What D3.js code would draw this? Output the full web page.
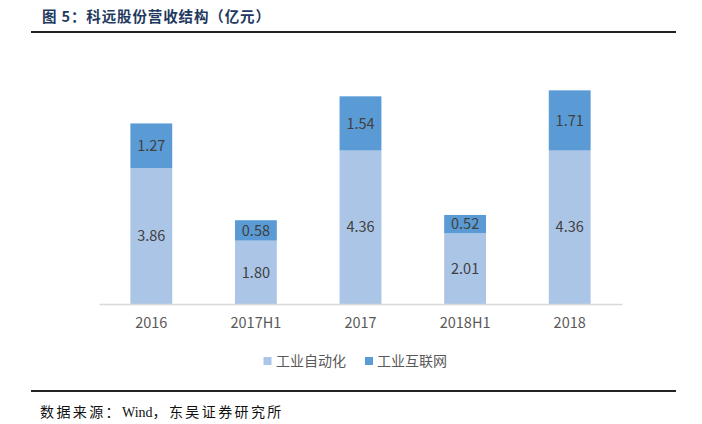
<!DOCTYPE html>
<html><head><meta charset="utf-8">
<script src="https://cdn.jsdelivr.net/npm/d3@7"></script>
<style>body{margin:0;background:#fff}svg{display:block}</style>
</head><body>
<svg id="c" width="702" height="424"></svg>
<script>
const categories = ["2016","2017H1","2017","2018H1","2018"];
const seriesNames = ["工业自动化","工业互联网"];
const automation = [3.86,1.80,4.36,2.01,4.36];
const internet = [1.27,0.58,1.54,0.52,1.71];
const colors = ["#ABC5E6","#5B9BD5"];
const titleText = "图 5：科远股份营收结构（亿元）";
const sourceParts = ["数据来源：","Wind","，东吴证券研究所"];

const svg = d3.select("#c");
const font = "'Noto Sans CJK SC','Liberation Sans',sans-serif";

// title
svg.append("text").attr("x",42).attr("y",22).text(titleText)
  .attr("font-family","'Noto Sans CJK SC',serif").attr("font-weight","bold")
  .attr("font-size",14.5).attr("fill","#1F3A60")
  .attr("textLength",228).attr("lengthAdjust","spacing");
svg.append("line").attr("x1",31).attr("x2",676).attr("y1",32).attr("y2",32)
  .attr("stroke","#222").attr("stroke-width",2);
svg.append("line").attr("x1",31).attr("x2",676).attr("y1",391).attr("y2",391)
  .attr("stroke","#222").attr("stroke-width",2);
const src = svg.append("text").attr("x",40).attr("y",417)
  .attr("font-family","'Liberation Serif','Noto Sans CJK SC',serif")
  .attr("font-size",14).attr("fill","#111");
src.append("tspan").attr("letter-spacing",2.4).text(sourceParts[0]);
src.append("tspan").text(sourceParts[1]);
src.append("tspan").attr("letter-spacing",2.4).text(sourceParts[2]);

const x = d3.scaleBand().domain(categories).range([99,622]).paddingInner(0.6).paddingOuter(0.3);
const y = d3.scaleLinear().domain([0,7]).range([304,304-7*35.2]);

const data = categories.map((c,i)=>({cat:c, a:automation[i], b:internet[i]}));
const stack = d3.stack().keys(["a","b"])(data);

const g = svg.append("g");
stack.forEach((layer,li)=>{
  g.selectAll(null).data(layer).enter().append("rect")
    .attr("x",d=>x(d.data.cat)).attr("width",x.bandwidth())
    .attr("y",d=>y(d[1])).attr("height",d=>y(d[0])-y(d[1]))
    .attr("fill",colors[li]);
  g.selectAll(null).data(layer).enter().append("text")
    .attr("x",d=>x(d.data.cat)+x.bandwidth()/2)
    .attr("y",d=>(y(d[0])+y(d[1]))/2)
    .attr("dy","0.36em").attr("text-anchor","middle")
    .attr("font-family",font).attr("font-size",14.5).attr("fill","#404040")
    .text(d=>(d[1]-d[0]).toFixed(2));
});

// axis
const ax = svg.append("g").attr("transform","translate(0,304)")
  .call(d3.axisBottom(x).tickSize(0).tickPadding(14));
ax.select(".domain").attr("stroke","#D9D9D9").attr("stroke-width",1.5);
ax.selectAll("text").attr("font-family",font).attr("font-size",14.5).attr("fill","#595959");

// legend
const leg = [{x:263.5,tx:276},{x:365,tx:377}];
seriesNames.forEach((n,i)=>{
  svg.append("rect").attr("x",leg[i].x).attr("y",357).attr("width",8).attr("height",8).attr("fill",colors[i]);
  svg.append("text").attr("x",leg[i].tx).attr("y",361).attr("dy","0.36em").text(n)
    .attr("font-family",font).attr("font-size",14).attr("fill","#595959");
});
</script>
</body></html>
